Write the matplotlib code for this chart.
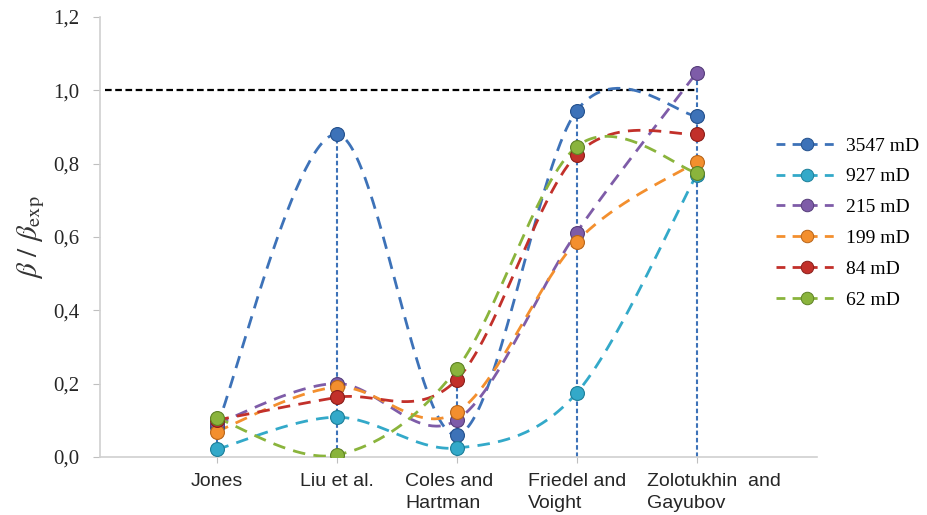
import numpy as np
import matplotlib.pyplot as plt
import matplotlib.transforms as mtransforms
from matplotlib.lines import Line2D
from matplotlib.ticker import FuncFormatter

# data
categories = ["Jones", "Liu et al.", "Coles and\nHartman", "Friedel and\nVoight",
              "Zolotukhin  and\nGayubov"]
series_labels = ["3547 mD", "927 mD", "215 mD", "199 mD", "84 mD", "62 mD"]
beta_3547 = [0.08, 0.88, 0.06, 0.944, 0.93]
beta_927 = [0.02, 0.108, 0.024, 0.174, 0.77]
beta_215 = [0.09, 0.20, 0.10, 0.612, 1.048]
beta_199 = [0.069, 0.19, 0.121, 0.587, 0.805]
beta_84 = [0.10, 0.162, 0.21, 0.824, 0.881]
beta_62 = [0.106, 0.005, 0.239, 0.846, 0.775]
ref_level = 1.0

colors = ["#3D72B8", "#33A9C9", "#7E5CA8", "#F38F2E", "#C2302A", "#8AB43C"]
edge_colors = ["#23508C", "#1D7F99", "#563D7A", "#B8651A", "#8A1E1A", "#5E8226"]
# small horizontal nudges of the wrapped category labels (category units)
label_nudge = [0.0, 0.0, -0.06, 0.0, 0.14]


def excel_smooth(xs, ys, n=60):
    """Bezier smoothing like Excel's 'smoothed line'."""
    pts = np.column_stack([xs, ys]).astype(float)
    out = []
    t = np.linspace(0, 1, n)[:, None]
    for i in range(len(pts) - 1):
        p0 = pts[max(i - 1, 0)]
        p1 = pts[i]
        p2 = pts[i + 1]
        p3 = pts[min(i + 2, len(pts) - 1)]
        c1 = p1 + (p2 - p0) / 6
        c2 = p2 - (p3 - p1) / 6
        seg = ((1 - t) ** 3) * p1 + 3 * ((1 - t) ** 2) * t * c1 + 3 * (1 - t) * t ** 2 * c2 + t ** 3 * p2
        out.append(seg if i == 0 else seg[1:])
    seg = np.vstack(out)
    return seg[:, 0], seg[:, 1]


plt.rcParams["mathtext.fontset"] = "stix"

fig = plt.figure(figsize=(9.27, 5.15), dpi=100)
ax = fig.add_axes([0.108, 0.113, 0.773, 0.854])

x = np.arange(len(categories))
all_series = [beta_3547, beta_927, beta_215, beta_199, beta_84, beta_62]

# drop lines from the highest point of each category
tops = np.max(np.array(all_series), axis=0)
ax.vlines(x, 0, tops, colors="#3D72B8", linestyles=(0, (2.2, 1.3)), linewidth=1.5, zorder=2)

# reference line at 1.0
ax.plot([-0.93, x[-1]], [ref_level, ref_level], color="black", linestyle=(0, (3, 1.6)),
        linewidth=1.6, zorder=2)

handles = []
for vals, lab, col, ec in zip(all_series, series_labels, colors, edge_colors):
    sx, sy = excel_smooth(x, vals)
    ax.plot(sx, sy, color=col, linestyle=(0, (4.5, 3)), linewidth=2.0, zorder=3)
    ax.plot(x, vals, linestyle="none", marker="o", markersize=10, markerfacecolor=col,
            markeredgecolor=ec, markeredgewidth=0.8, zorder=4)
    handles.append(Line2D([0], [0], color=col, linestyle=(0, (3.2, 2.6)), linewidth=2.0,
                          marker="o", markersize=9, markerfacecolor=col,
                          markeredgecolor=ec, markeredgewidth=0.7, label=lab))

ax.set_xlim(-0.97, 5.0)
ax.set_ylim(0, 1.2)
ax.set_yticks(np.arange(0, 1.21, 0.2))
ax.yaxis.set_major_formatter(FuncFormatter(lambda v, p: f"{v:.1f}".replace(".", ",")))
ax.set_xticks(x)
ax.set_xticklabels([])

# category labels: centred block, lines left-aligned
trans = mtransforms.blended_transform_factory(ax.transData, ax.transAxes)
for xi, cat, nudge in zip(x, categories, label_nudge):
    ax.text(xi + nudge, -0.036, cat, transform=trans, ha="center", va="top",
            multialignment="left", linespacing=1.42, fontsize=14,
            family="Liberation Sans", color="#262626")

for lbl in ax.get_yticklabels():
    lbl.set_family("Liberation Serif")
    lbl.set_fontsize(15)
    lbl.set_color("#262626")

ax.tick_params(axis="y", length=5, color="#BFBFBF", pad=10)
ax.tick_params(axis="x", length=4, color="#BFBFBF")
for side in ["top", "right"]:
    ax.spines[side].set_visible(False)
for side in ["left", "bottom"]:
    ax.spines[side].set_color("#D0D0D0")
    ax.spines[side].set_linewidth(1.2)

ax.set_ylabel(r"$\beta\ /\ \beta_{\mathrm{exp}}$", fontsize=21, color="#333333", labelpad=4)

leg = fig.legend(handles=handles, loc="upper left", bbox_to_anchor=(0.818, 0.768),
                 frameon=False, handlelength=3.2, handletextpad=0.4, labelspacing=0.68,
                 prop={"family": "Liberation Serif", "size": 14})

fig.savefig("out.png", dpi=100)
